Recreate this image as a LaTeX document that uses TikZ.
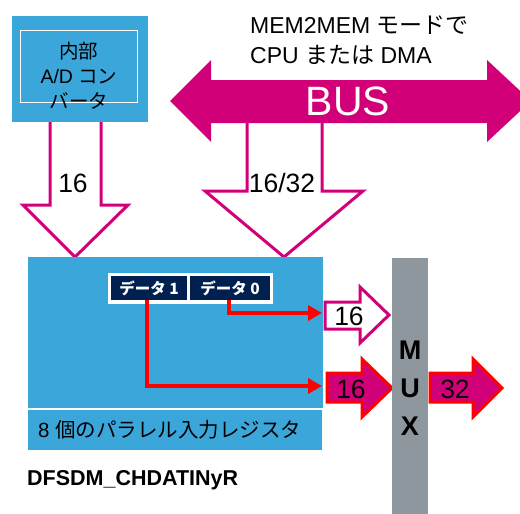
\documentclass[tikz,border=0pt]{standalone}
\usepackage{fontspec}
\setmainfont{Liberation Sans}
\newfontfamily\jp{Noto Sans CJK JP}
\usetikzlibrary{arrows.meta}
\definecolor{stblue}{RGB}{59,166,218}
\definecolor{stpink}{RGB}{210,0,120}
\definecolor{navy}{RGB}{0,32,80}
\definecolor{muxgray}{RGB}{142,150,158}
\begin{document}
\begin{tikzpicture}[x=1pt,y=-1pt,
  outarrow/.style={draw=stpink, line width=3pt, fill=white, line join=miter},
  fillarrow/.style={draw=red, line width=3pt, fill=stpink, line join=miter},
  lbl/.style={inner sep=0pt, font=\fontsize{26.5}{30}\selectfont},
  toptext/.style={anchor=base west, inner sep=0pt, font=\fontsize{23}{30}\selectfont},
  databox/.style={fill=navy, text=white, minimum width=76pt, minimum height=24pt, inner sep=0pt, font=\fontsize{15.5}{18}\selectfont\jp\bfseries},
  redline/.style={draw=red, line width=4pt, -{Triangle[length=14pt,width=15pt]}}]
\useasboundingbox (0,0) rectangle (520,514);
\clip (0,0) rectangle (520,514);
% down arrows
\draw[outarrow] (50,120) -- (101,120) -- (101,205) -- (128,205) -- (75,257) -- (23,205) -- (50,205) -- cycle;
\node[lbl] (n16a) at (73,183) {16};
\draw[outarrow] (247,118) -- (322,118) -- (322,191) -- (363,191) -- (284,257) -- (205,191) -- (247,191) -- cycle;
\node[lbl] (n1632) at (282,183) {16/32};
% bus
\fill[stpink] (170,101) -- (211,60) -- (211,80) -- (487,80) -- (487,60) -- (531,101) -- (487,142) -- (487,123) -- (211,123) -- (211,142) -- cycle;
\node[inner sep=0pt, text=white, font=\fontsize{41}{44}\selectfont] (bus) at (348,101) {BUS};
\node[toptext] (mode1) at (250,34) {MEM2MEM {\jp モードで}};
\node[toptext] (mode2) at (250,63) {CPU {\jp または} DMA};
% ADC
\fill[stblue] (12,16) rectangle (148,122);
\draw[white, line width=0.8pt] (20,30) rectangle (137,102);
\node[align=center, inner sep=0pt, font=\fontsize{19.5}{25}\selectfont] (adc) at (79,76) {{\jp 内部}\\A/D {\jp コン}\\{\jp バータ}};
% register
\fill[stblue] (28,257) rectangle (323,408);
\fill[stblue] (28,410) rectangle (322,450);
\node[anchor=west, inner sep=0pt, font=\fontsize{20.5}{24}\selectfont] (reg) at (38,430) {8 {\jp 個のパラレル入力レジスタ}};
\fill[white] (108,273) rectangle (273,304);
\node[databox] (d1) at (149,288) {データ 1};
\node[databox, minimum width=80pt] (d0) at (230,288) {データ 0};
\coordinate (in0) at (322,313);
\coordinate (in1) at (322,386);
\draw[redline] ([xshift=-2pt]d1.south) |- (in1);
\draw[redline] ([xshift=-1pt]d0.south) |- (in0);
% small arrows
\draw[outarrow] (325,302) -- (360,302) -- (360,287) -- (389,315) -- (360,343) -- (360,329) -- (325,329) -- cycle;
\node[lbl] (n16b) at (349,316) {16};
\draw[fillarrow] (327,373) -- (362,373) -- (362,359) -- (392,388) -- (362,417) -- (362,402) -- (327,402) -- cycle;
\node[lbl] (n16c) at (351,389) {16};
% MUX
\fill[muxgray] (392,258) rectangle (428,520);
\node[align=center, inner sep=0pt, font=\fontsize{27}{38}\selectfont\bfseries] (mux) at (410,388) {M\\U\\X};
\draw[fillarrow] (430,373) -- (473,373) -- (473,359) -- (502,388) -- (473,417) -- (473,402) -- (430,402) -- cycle;
\node[lbl] (n32) at (455,389) {32};
% label
\node[anchor=west, inner sep=0pt, font=\fontsize{21.5}{24}\selectfont\bfseries] (name) at (27,480) {DFSDM\_CHDATINyR};
\end{tikzpicture}
\end{document}
